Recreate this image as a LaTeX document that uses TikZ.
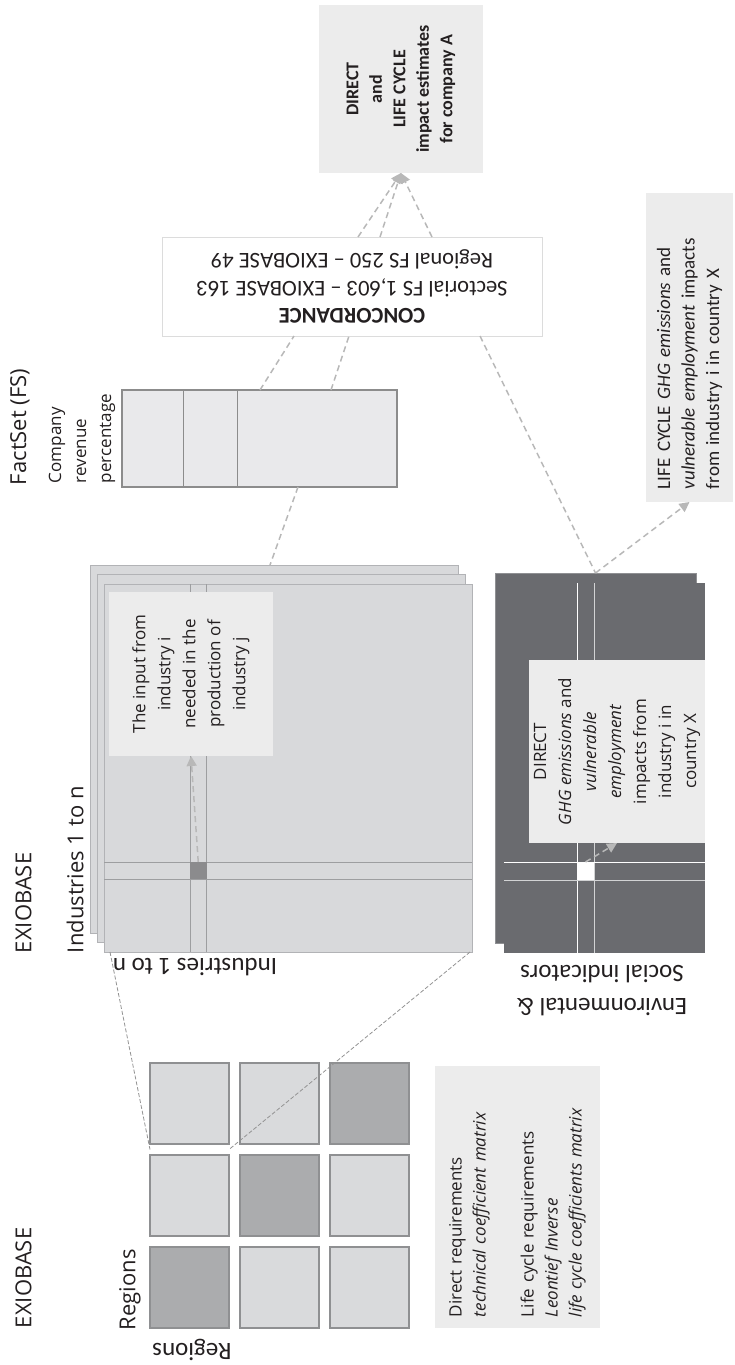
\documentclass[tikz,border=0pt]{standalone}
\usepackage{fontspec}
\setmainfont{Open Sans}
\newfontfamily\narrowfont{Carlito}
\usepackage{tikz}
\usetikzlibrary{arrows.meta,calc}

\definecolor{txt}{HTML}{231F20}
\definecolor{boxgray}{HTML}{ECECEC}
\definecolor{concline}{HTML}{DCDCDC}
\definecolor{sheetgray}{HTML}{D8D9DB}
\definecolor{sheetline}{HTML}{B2B3B6}
\definecolor{gridline}{HTML}{9D9EA0}
\definecolor{iocellgray}{HTML}{8B8B8D}
\definecolor{cellgray}{HTML}{D9DADC}
\definecolor{celldark}{HTML}{ABACAE}
\definecolor{cellline}{HTML}{8F9092}
\definecolor{darkmat}{HTML}{6A6B6F}
\definecolor{linkgray}{HTML}{B8B8B8}
\definecolor{tabfill}{HTML}{E9E9EB}
\definecolor{tabline}{HTML}{8C8C8C}

\begin{document}
\begin{tikzpicture}[x=1pt, y=-1pt, inner sep=0pt, outer sep=0pt, text=txt,
  big/.style={font=\fontsize{22}{26}\selectfont},
  cond/.style={font=\narrowfont\fontsize{25}{33}\selectfont},
  note/.style={fill=boxgray, rotate=90, align=center,
               font=\fontsize{17}{25}\selectfont},
  link/.style={draw=linkgray, line width=1.5pt, dash pattern=on 6pt off 4pt},
  thinlink/.style={draw=linkgray!80!black, line width=0.8pt,
                   dash pattern=on 4pt off 2pt},
  arr/.style={-{Triangle[length=10pt,width=10pt]}},
  lsheet/.style={fill=sheetgray, draw=sheetline, line width=1pt,
                 anchor=north west, minimum width=368pt, minimum height=368pt},
  dsheet/.style={fill=darkmat, anchor=north west,
                 minimum width=201pt, minimum height=370pt},
  cell/.style={draw=cellline, line width=1.2pt, anchor=north west,
               minimum width=79pt, minimum height=81pt}]

  \useasboundingbox (0,0) rectangle (734,1365);

  %--- Result and concordance ----------------------------------------------
  \node[note, font=\narrowfont\bfseries\fontsize{18}{23.5}\selectfont,
        minimum width=168pt, minimum height=164pt] (final) at (401,89)
        {DIRECT\\and\\LIFE CYCLE\\impact estimates\\for company A};
  \node[rotate=180, fill=white, draw=concline, line width=1pt, align=center,
        minimum width=380pt, minimum height=99pt,
        font=\narrowfont\fontsize{22.5}{27.5}\selectfont] (conc) at (352,286.5)
        {\textbf{CONCORDANCE}\\Sectorial FS 1,603 – EXIOBASE 163\\Regional FS 250 – EXIOBASE 49};
  \node[note, align=left, font=\narrowfont\fontsize{19}{24.5}\selectfont,
        minimum height=87pt, text width=283pt, inner xsep=13pt] (lcbox) at (689.5,347.5)
        {LIFE CYCLE \textit{GHG emissions} and\\\textit{vulnerable employment} impacts\\from industry i in country X};

  %--- FactSet table -------------------------------------------------------
  \node[draw=tabline, fill=tabfill, line width=1.2pt,
        minimum width=275pt, minimum height=97pt] (fstab) at (259.5,438.5) {};
  \foreach \dx in {61,115}
    \draw[tabline, line width=1pt] ($(fstab.north west)+(\dx,0)$) -- ($(fstab.south west)+(\dx,0)$);
  \node[big, rotate=90, anchor=west] (fsLabel) at (20,485) {FactSet (FS)};
  \node[rotate=90, anchor=west, align=left, font=\fontsize{17}{25}\selectfont]
        (revLabel) at (82,483) {Company\\revenue\\percentage};

  %--- EXIOBASE industry matrix --------------------------------------------
  \node[lsheet] (ioBack)  at (90,565) {};
  \node[lsheet] (ioMid)   at (97,574) {};
  \node[lsheet] (ioFront) at (104,584) {};
  \foreach \xx in {190,206.5}
    \draw[gridline, line width=1pt] (\xx,584) -- (\xx,952);
  \foreach \yy in {862,879}
    \draw[gridline, line width=1pt] (104,\yy) -- (472,\yy);
  \node[fill=iocellgray, anchor=north west, minimum width=16.5pt,
        minimum height=17pt] (ioCell) at (190,862) {};
  \node[note, minimum width=164pt, minimum height=164pt] (inbox) at (191,674)
        {The input from\\industry i\\needed in the\\production of\\industry j};

  \node[big, rotate=90, anchor=west] (exioTop)  at (23.5,953) {EXIOBASE};
  \node[big, rotate=90, anchor=west] (indLabel) at (75,953) {Industries 1 to n};
  \node[cond, rotate=180] (indLabelB) at (195,967) {Industries 1 to n};

  %--- Environmental & social indicators -----------------------------------
  \node[dsheet, draw=darkmat!75!white, line width=1pt] (envBack) at (495,573) {};
  \node[dsheet] (envFront) at (504,583) {};
  \draw[white, line width=1pt] (577,583) -- (577,953);
  \draw[white!70!darkmat, line width=1pt] (594,583) -- (594,953);
  \draw[white, line width=1pt] (504,862) -- (705,862);
  \draw[white!70!darkmat, line width=1pt] (504,880) -- (705,880);
  \node[fill=white, anchor=north west, minimum width=17pt,
        minimum height=18pt] (envCell) at (577,862) {};
  \node[note, minimum width=183pt, minimum height=176pt] (dirbox) at (617,751.5)
        {DIRECT\\\textit{GHG emissions} and\\\textit{vulnerable}\\\textit{employment}\\impacts from\\industry i in\\country X};
  \node[cond, rotate=180, align=center] (envLabel) at (602,991)
        {Environmental \&\\Social indicators};

  %--- Regions grid --------------------------------------------------------
  \foreach \r in {1,2,3}
    \foreach \c in {1,2,3} {
      \ifnum\numexpr\r+\c\relax=4 \def\cellfill{celldark}\else\def\cellfill{cellgray}\fi
      \node[cell, fill=\cellfill] (g-\r-\c) at ({150+(\c-1)*90},{1063+(\r-1)*92}) {};
    }
  \node[big, rotate=90, anchor=west] (regLabel) at (130,1330) {Regions};
  \node[cond, rotate=180] (regLabelB) at (192,1350) {Regions};
  \node[big, rotate=90, anchor=west] (exioBot) at (23.5,1328) {EXIOBASE};
  \node[note, align=left, text width=240pt, inner xsep=11pt,
        font=\fontsize{17}{24}\selectfont, minimum height=165pt] (reqbox) at (517.5,1197)
        {Direct requirements\\\textit{technical coefficient matrix}\\[24pt]
         Life cycle requirements\\\textit{Leontief Inverse}\\\textit{life cycle coefficients matrix}};

  %--- Links ---------------------------------------------------------------
  \foreach \dx in {6,28,80}
    \draw[link, arr] ($(conc.south)+(\dx,0)$) -- (final.west);
  \draw[link] ($(fstab.north)+(0.5,0)$) -- ($(conc.north)+(-58,0)$);
  \draw[link] ($(fstab.north)+(71.5,0)$) -- ($(conc.north)+(-3,0)$);
  \draw[link] ($(fstab.south)+(38.5,0)$) -- ($(ioBack.north)+(-4,0)$);
  \draw[link] ($(conc.north)+(128,0)$) -- (envBack.north);
  \draw[link, arr] (envBack.north) -- (lcbox.west);
  \draw[link, arr] (ioCell.north) -- (inbox.west);
  \draw[link, arr] (envCell.north) -- (dirbox.west);
  \draw[thinlink] ($(ioFront.south west)+(6,0)$) -- ($(g-1-1.south west)!0.5!(g-2-1.north west)$);
  \draw[thinlink] ($(ioFront.south east)+(-2,0)$) -- ($(g-1-1.south east)!0.5!(g-2-1.north east)$);

\end{tikzpicture}
\end{document}
